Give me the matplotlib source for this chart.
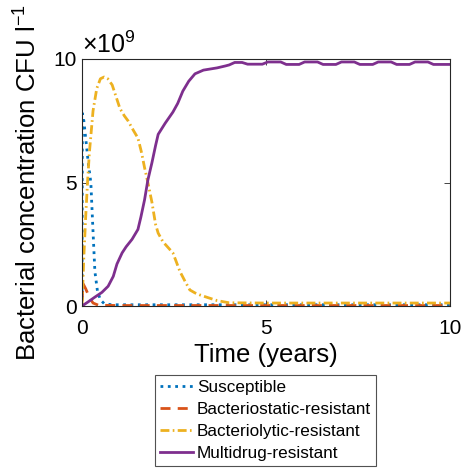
import numpy as np
import matplotlib
matplotlib.use('Agg')
import matplotlib.pyplot as plt

plt.rcParams['font.family'] = ['Liberation Sans', 'DejaVu Sans']
plt.rcParams['mathtext.fontset'] = 'custom'
plt.rcParams['mathtext.rm'] = 'Liberation Sans'
plt.rcParams['mathtext.it'] = 'Liberation Sans:italic'

# Time in years, concentrations in units of 1e9 CFU per litre
t_sus = [0, 0.01, 0.05, 0.1, 0.17, 0.24, 0.3, 0.35, 0.42, 0.5, 0.6, 0.8, 2, 4, 6, 8, 10]
susceptible = [0, 7.8, 7.5, 6.8, 5.8, 5.0, 3.0, 1.4, 0.6, 0.25, 0.1, 0.05, 0.05, 0.05, 0.05, 0.05, 0.05]

t_stat = [0, 0.03, 0.1, 0.2, 0.3, 0.45, 1, 3, 5, 7, 10]
bacteriostatic = [0.2, 0.9, 0.7, 0.35, 0.12, 0.03, 0.02, 0.02, 0.02, 0.02, 0.02]

t_lytic = [0, 0.05, 0.1, 0.15, 0.2, 0.3, 0.4, 0.5, 0.6, 0.7, 0.82, 0.92, 1.03, 1.15,
           1.25, 1.4, 1.52, 1.62, 1.7, 1.79, 1.9, 2.0, 2.07, 2.2, 2.35, 2.47, 2.56,
           2.66, 2.8, 2.93, 3.07, 3.2, 3.4, 3.67, 4.0, 5, 7, 10]
bacteriolytic = [0, 2.0, 3.6, 5.0, 6.2, 7.9, 8.8, 9.2, 9.27, 9.2, 8.95, 8.5, 8.0, 7.7,
                 7.5, 7.1, 6.8, 6.2, 5.6, 5.0, 4.2, 3.3, 2.95, 2.6, 2.35, 2.15, 1.8,
                 1.4, 1.0, 0.65, 0.53, 0.45, 0.35, 0.22, 0.13, 0.12, 0.12, 0.12]

t_multi = [0, 0.15, 0.35, 0.54, 0.71, 0.85, 0.95, 1.09, 1.2, 1.36, 1.52, 1.6, 1.7,
           1.79, 1.9, 2.0, 2.07, 2.26, 2.47, 2.6, 2.74, 2.9, 3.07, 3.3, 3.67, 3.9,
           4.0, 4.15, 4.35, 4.5, 4.9, 5.05, 5.4, 5.55, 5.9, 6.05, 6.4, 6.55, 6.9,
           7.05, 7.4, 7.55, 7.9, 8.05, 8.4, 8.55, 8.9, 9.05, 9.4, 9.55, 10]
multidrug = [0, 0.15, 0.36, 0.55, 0.8, 1.2, 1.7, 2.15, 2.4, 2.7, 3.1, 3.6, 4.3,
             5.1, 5.8, 6.5, 6.95, 7.4, 7.85, 8.2, 8.7, 9.1, 9.4, 9.55, 9.64, 9.72,
             9.76, 9.86, 9.86, 9.79, 9.79, 9.88, 9.88, 9.78, 9.78, 9.88, 9.88, 9.78, 9.78,
             9.88, 9.88, 9.78, 9.78, 9.88, 9.88, 9.78, 9.78, 9.88, 9.88, 9.78, 9.78]

fig = plt.figure(figsize=(4.68, 4.68), dpi=100)
ax = fig.add_axes([82/468, 1 - 306/468, 368/468, 247/468])

lw = 2.0
ax.plot(t_sus, susceptible, ':', color='#0072BD', lw=lw, label='Susceptible')
ax.plot(t_stat, bacteriostatic, color='#D95319', lw=lw, dashes=(3.6, 2.6),
        label='Bacteriostatic-resistant')
ax.plot(t_lytic, bacteriolytic, color='#EDB120', lw=lw, dashes=(3.2, 1.2, 0.6, 1.2),
        label='Bacteriolytic-resistant')
ax.plot(t_multi, multidrug, '-', color='#7E2F8E', lw=lw, label='Multidrug-resistant')

ax.set_xlim(0, 10)
ax.set_ylim(0, 10)
ax.set_xticks([0, 5, 10])
ax.set_yticks([0, 5, 10])
ax.tick_params(direction='in', top=True, right=True, labelsize=15, length=4,
               width=0.6, colors='#262626', labelcolor='black')
ax.tick_params(axis='x', pad=9)
ax.tick_params(axis='y', pad=4)
for s in ax.spines.values():
    s.set_color('#262626')
    s.set_linewidth(0.8)

ax.set_xlabel('Time (years)', fontsize=18.5, labelpad=4)
ax.set_ylabel('Bacterial concentration CFU l$^{-1}$', fontsize=18.5, labelpad=8)
ax.text(0.0, 1.005, r'$\times10^{9}$', transform=ax.transAxes, fontsize=18,
        ha='left', va='bottom')

leg = fig.legend(loc='upper left', bbox_to_anchor=(155/468, 1 - 375/468),
                 fontsize=12.3, frameon=True, fancybox=False, handlelength=1.9,
                 handletextpad=0.25, borderpad=0.3, labelspacing=0.4,
                 borderaxespad=0)
leg.get_frame().set_edgecolor('#262626')
leg.get_frame().set_linewidth(0.8)

fig.savefig('out.png', dpi=100)
